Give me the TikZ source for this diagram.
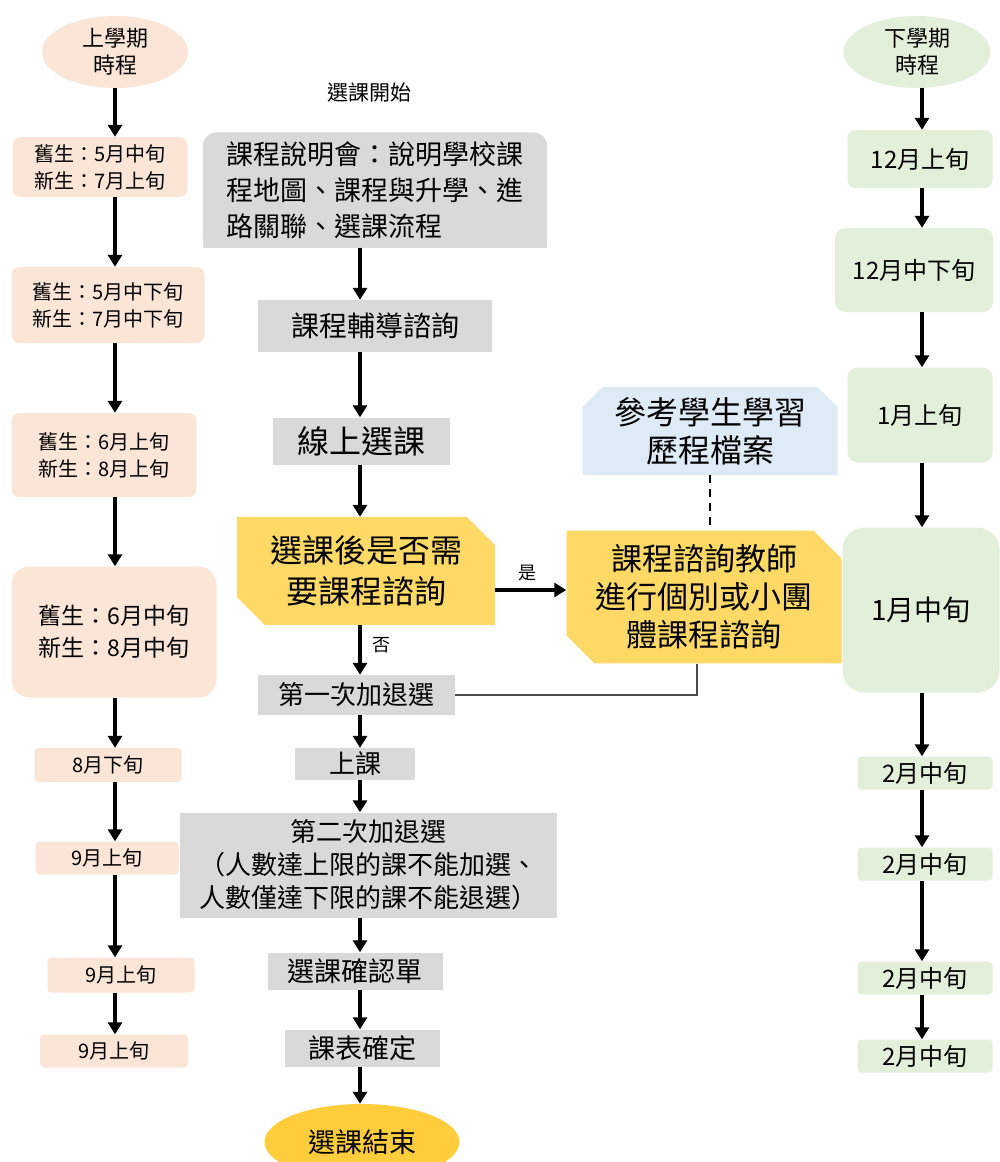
\documentclass[tikz,border=0pt]{standalone}
\usepackage{fontspec}
\setmainfont{Noto Sans CJK TC}
\usepackage{xcolor}
\usepackage{tikz}
\usetikzlibrary{arrows.meta, shapes.geometric, shapes.misc, backgrounds}

\definecolor{peach}{HTML}{FBE5D6}
\definecolor{mint}{HTML}{E2F0D9}
\definecolor{greybox}{HTML}{D9D9D9}
\definecolor{gold}{HTML}{FFD966}
\definecolor{skyblue}{HTML}{DEEBF7}
\definecolor{endgold}{HTML}{FFCD3C}
\newcommand{\setfs}[2]{\fontsize{#1}{#2}\selectfont}

\begin{document}
\begin{tikzpicture}[x=1pt,y=-1pt,
  arr/.style={line width=3.5pt,-{Triangle[length=12pt,width=14pt]}},
  term/.style={ellipse,inner sep=0pt,align=center},
  early/.style={fill=peach,rounded corners=8pt,inner sep=0pt,align=center,font=\setfs{20}{27}},
  late/.style={fill=mint,rounded corners=8pt,inner sep=0pt,align=center,font=\setfs{24}{28}},
  grey/.style={fill=greybox,inner sep=0pt,align=center},
  ask/.style={chamfered rectangle,chamfered rectangle corners={north east,south west},
    chamfered rectangle xsep=14pt,chamfered rectangle ysep=14pt,fill=gold,inner sep=0pt,align=center}]
\begin{scope}[on background layer]
\fill[white] (0,0) rectangle (1000,1162); %page
\end{scope}
\useasboundingbox (0,0) rectangle (1000,1162);
\coordinate (lx) at (115,0);
\coordinate (mx) at (360,0);
\coordinate (rx) at (922,0);

% first term (left)
\node[term,fill=peach,minimum width=146pt,minimum height=72pt,font=\setfs{22}{27}] (up) at (115,52) {上學期\\時程};
\node[early,minimum width=175pt,minimum height=60pt] (u1) at (100,167) {舊生：5月中旬\\新生：7月上旬};
\node[early,minimum width=193pt,minimum height=76pt] (u2) at (108,305) {舊生：5月中下旬\\新生：7月中下旬};
\node[early,minimum width=185pt,minimum height=84pt] (u3) at (104,455) {舊生：6月上旬\\新生：8月上旬};
\node[early,rounded corners=18pt,minimum width=205pt,minimum height=131pt,font=\setfs{23}{32}] (u4) at (114,632) {舊生：6月中旬\\新生：8月中旬};
\node[early,rounded corners=4pt,minimum width=147pt,minimum height=34pt] (u5) at (108,765) {8月下旬};
\node[early,rounded corners=4pt,minimum width=143pt,minimum height=33pt] (u6) at (107,858) {9月上旬};
\node[early,rounded corners=4pt,minimum width=147pt,minimum height=35pt] (u7) at (121,975) {9月上旬};
\node[early,rounded corners=4pt,minimum width=148pt,minimum height=33pt] (u8) at (114,1051) {9月上旬};
\draw[arr] (up.south -| lx) -- (u1.north -| lx);
\draw[arr] (u1.south -| lx) -- (u2.north -| lx);
\draw[arr] (u2.south -| lx) -- (u3.north -| lx);
\draw[arr] (u3.south -| lx) -- (u4.north -| lx);
\draw[arr] (u4.south -| lx) -- (u5.north -| lx);
\draw[arr] (u5.south -| lx) -- (u6.north -| lx);
\draw[arr] (u6.south -| lx) -- (u7.north -| lx);
\draw[arr] (u7.south -| lx) -- (u8.north -| lx);

% course selection (middle)
\node[font=\setfs{21}{24}] (start) at (369,92) {選課開始};
\node[inner sep=0pt,minimum width=344pt,minimum height=115pt,align=left,font=\setfs{27}{36}] (intro) at (375,190) {課程說明會：說明學校課\\程地圖、課程與升學、進\\路關聯、選課流程};
\begin{scope}[on background layer]
\fill[greybox,rounded corners=14pt] (intro.south west) rectangle (intro.north east);
\fill[greybox] (intro.south west) rectangle ([yshift=20pt]intro.south east);
\end{scope}
\node[grey,minimum width=234pt,minimum height=52pt,font=\setfs{28}{32}] (guide) at (375,326) {課程輔導諮詢};
\node[grey,minimum width=177pt,minimum height=47pt,font=\setfs{32}{36}] (online) at (361,441) {線上選課};
\node[ask,minimum width=258pt,minimum height=108pt,font=\setfs{32}{41}] (need) at (366,571) {選課後是否需\\要課程諮詢};
\node[grey,minimum width=197pt,minimum height=40pt,font=\setfs{26}{30}] (add1) at (356,695) {第一次加退選};
\node[grey,minimum width=120pt,minimum height=32pt,font=\setfs{26}{30}] (class) at (355,764) {上課};
\node[grey,minimum width=377pt,minimum height=105pt,font=\setfs{26}{33}] (add2) at (368,865) {第二次加退選\\（人數達上限的課不能加選、\\人數僅達下限的課不能退選）};
\node[grey,minimum width=175pt,minimum height=37pt,font=\setfs{27}{30}] (confirm) at (355,971) {選課確認單};
\node[grey,minimum width=155pt,minimum height=37pt,font=\setfs{27}{30}] (table) at (362,1048) {課表確定};
\node[term,fill=endgold,minimum width=195pt,minimum height=76pt,font=\setfs{27}{30}] (stop) at (362,1142) {選課結束};
\draw[arr] (intro.south -| mx) -- (guide.north -| mx);
\draw[arr] (guide.south -| mx) -- (online.north -| mx);
\draw[arr] (online.south -| mx) -- (need.north -| mx);
\draw[arr] (need.south -| mx) -- (add1.north -| mx);
\node[font=\setfs{18}{20}] (no) at (381,645) {否};
\draw[arr] (add1.south -| mx) -- (class.north -| mx);
\draw[arr] (class.south -| mx) -- (add2.north -| mx);
\draw[arr] (add2.south -| mx) -- (confirm.north -| mx);
\draw[arr] (confirm.south -| mx) -- (table.north -| mx);
\draw[arr] (table.south -| mx) -- (stop.north -| mx);

% counselling branch
\node[chamfered rectangle,chamfered rectangle corners={north west,north east},chamfered rectangle xsep=10pt,chamfered rectangle ysep=10pt,
  fill=skyblue,inner sep=0pt,minimum width=255pt,minimum height=83pt,align=center,font=\setfs{32}{38}] (portfolio) at (710,431) {參考學生學習\\歷程檔案};
\node[ask,minimum width=275pt,minimum height=120pt,font=\setfs{31}{38}] (counsel) at (704,597) {課程諮詢教師\\進行個別或小團\\體課程諮詢};
\draw[arr] ([yshift=-19pt]need.east) -- ([yshift=-19pt]need.east -| counsel.west);
\node[font=\setfs{18}{20}] (yes) at (527,573) {是};
\draw[line width=2pt,dash pattern=on 8pt off 6pt] (portfolio.south) -- (portfolio.south |- counsel.north);
\draw[line width=1.5pt,gray!60!black] ([xshift=-7pt]counsel.south) |- (add1.east);

% second term (right)
\node[term,fill=mint,minimum width=147pt,minimum height=72pt,font=\setfs{22}{27}] (down) at (917,52) {下學期\\時程};
\node[late,minimum width=145pt,minimum height=58pt] (d1) at (920,159) {12月上旬};
\node[late,rounded corners=10pt,minimum width=158pt,minimum height=84pt] (d2) at (914,270) {12月中下旬};
\node[late,rounded corners=10pt,minimum width=145pt,minimum height=95pt] (d3) at (920,415) {1月上旬};
\node[late,rounded corners=22pt,minimum width=157pt,minimum height=165pt,font=\setfs{28}{32}] (d4) at (921,610) {1月中旬};
\node[late,rounded corners=4pt,minimum width=135pt,minimum height=33pt] (d5) at (925,773) {2月中旬};
\node[late,rounded corners=4pt,minimum width=135pt,minimum height=33pt] (d6) at (925,864) {2月中旬};
\node[late,rounded corners=4pt,minimum width=135pt,minimum height=33pt] (d7) at (925,978) {2月中旬};
\node[late,rounded corners=4pt,minimum width=135pt,minimum height=33pt] (d8) at (925,1056) {2月中旬};
\draw[arr] (down.south -| rx) -- (d1.north -| rx);
\draw[arr] (d1.south -| rx) -- (d2.north -| rx);
\draw[arr] (d2.south -| rx) -- (d3.north -| rx);
\draw[arr] (d3.south -| rx) -- (d4.north -| rx);
\draw[arr] (d4.south -| rx) -- (d5.north -| rx);
\draw[arr] (d5.south -| rx) -- (d6.north -| rx);
\draw[arr] (d6.south -| rx) -- (d7.north -| rx);
\draw[arr] (d7.south -| rx) -- (d8.north -| rx);
\end{tikzpicture}
\end{document}
